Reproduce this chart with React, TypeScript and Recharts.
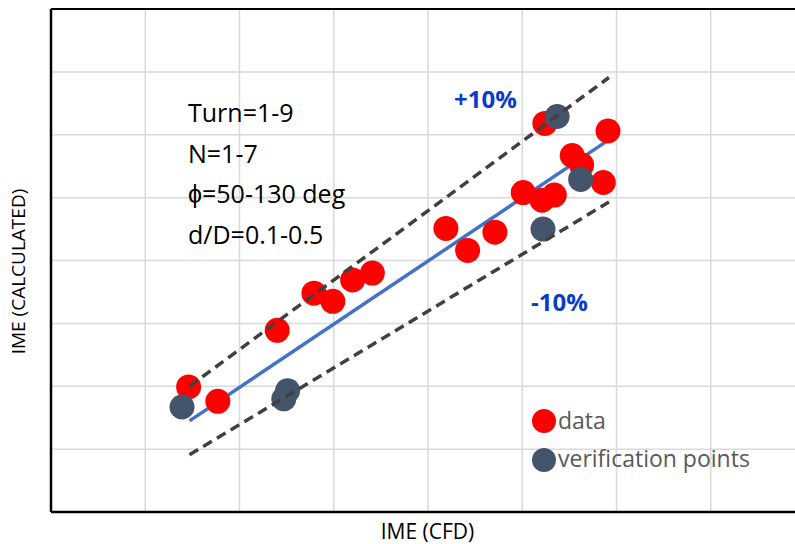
import React from 'react';
import { ScatterChart, Scatter, XAxis, YAxis, ReferenceLine } from 'recharts';

// IME (CFD) vs IME (CALCULATED), values in grid units
const dataPoints = [
  { x: 1.46, y: 1.99 },
  { x: 1.77, y: 1.76 },
  { x: 2.4, y: 2.89 },
  { x: 2.79, y: 3.48 },
  { x: 2.99, y: 3.35 },
  { x: 3.2, y: 3.69 },
  { x: 3.41, y: 3.8 },
  { x: 4.19, y: 4.51 },
  { x: 4.42, y: 4.16 },
  { x: 4.71, y: 4.45 },
  { x: 5.01, y: 5.08 },
  { x: 5.21, y: 4.96 },
  { x: 5.34, y: 5.04 },
  { x: 5.24, y: 6.18 },
  { x: 5.53, y: 5.67 },
  { x: 5.63, y: 5.52 },
  { x: 5.86, y: 5.24 },
  { x: 5.91, y: 6.06 },
];

const verificationPoints = [
  { x: 1.39, y: 1.67 },
  { x: 2.51, y: 1.93 },
  { x: 2.47, y: 1.8 },
  { x: 5.37, y: 6.29 },
  { x: 5.62, y: 5.29 },
  { x: 5.22, y: 4.5 },
];

const fitLine = [
  { x: 1.47, y: 1.45 },
  { x: 5.89, y: 5.89 },
];
const upperBound = [
  { x: 1.47, y: 2.0 },
  { x: 5.92, y: 6.91 },
];
const lowerBound = [
  { x: 1.47, y: 0.91 },
  { x: 5.92, y: 4.93 },
];

const gridTicks = [1, 2, 3, 4, 5, 6, 7, 8];
const notes = ['Turn=1-9', 'N=1-7', 'ϕ=50-130 deg', 'd/D=0.1-0.5'];

const RED = '#ff0000';
const GRAY = '#44546a';
const FONT = '"Open Sans", sans-serif';

const dot = (color: string) => (props: any) => (
  <circle cx={props.cx} cy={props.cy} r={12.5} fill={color} />
);
const noDot = () => <g />;

export default function App() {
  return (
    <div style={{ position: 'fixed', left: 0, top: 0, width: 795, height: 544, overflow: 'hidden', background: '#fff' }}>
      <ScatterChart width={810} height={544} margin={{ top: 9, left: 51, right: 5, bottom: 32 }}>
        <XAxis type="number" dataKey="x" domain={[0, 8]} hide />
        <YAxis type="number" dataKey="y" domain={[0, 8]} hide />
        {gridTicks.map((v) => (
          <ReferenceLine key={`gx${v}`} x={v} stroke="#d9d9d9" strokeWidth={1.5} />
        ))}
        {gridTicks.map((v) => (
          <ReferenceLine key={`gy${v}`} y={v} stroke={v === 8 ? '#000' : '#d9d9d9'} strokeWidth={v === 8 ? 2 : 1.5} />
        ))}
        <ReferenceLine x={0} stroke="#000" strokeWidth={2.5} />
        <ReferenceLine y={0} stroke="#000" strokeWidth={2.5} />
        <Scatter
          data={fitLine}
          line={{ stroke: '#4472c4', strokeWidth: 3.5 }}
          shape={noDot}
          legendType="none"
          isAnimationActive={false}
        />
        <Scatter name="data" data={dataPoints} fill={RED} shape={dot(RED)} isAnimationActive={false} />
        <Scatter name="verification points" data={verificationPoints} fill={GRAY} shape={dot(GRAY)} isAnimationActive={false} />
        <Scatter
          data={upperBound}
          line={{ stroke: '#404040', strokeWidth: 3.5, strokeDasharray: '10 6' }}
          shape={noDot}
          legendType="none"
          isAnimationActive={false}
        />
        <Scatter
          data={lowerBound}
          line={{ stroke: '#404040', strokeWidth: 3.5, strokeDasharray: '10 6' }}
          shape={noDot}
          legendType="none"
          isAnimationActive={false}
        />
      </ScatterChart>
      <svg width={795} height={544} style={{ position: 'absolute', left: 0, top: 0, pointerEvents: 'none' }}>
        {notes.map((t, i) => (
          <text key={t} x={188} y={122 + i * 40.7} fontFamily={FONT} fontSize={25} fill="#000">
            {t}
          </text>
        ))}
        <text x={454} y={108} fontFamily={FONT} fontSize={24} fontWeight="bold" fill="#0b3bcc">+10%</text>
        <text x={531} y={311} fontFamily={FONT} fontSize={24} fontWeight="bold" fill="#0b3bcc">-10%</text>
        <circle cx={544} cy={421} r={12} fill={RED} />
        <text x={558} y={429} fontFamily={FONT} fontSize={23} fill="#595959">data</text>
        <circle cx={544} cy={460} r={12} fill={GRAY} />
        <text x={558} y={467} fontFamily={FONT} fontSize={23} fill="#595959">verification points</text>
        <text x={427.5} y={539} textAnchor="middle" fontFamily={FONT} fontSize={21} fill="#000">IME (CFD)</text>
        <text
          x={25}
          y={271.5}
          textAnchor="middle"
          transform="rotate(-90 25 271.5)"
          fontFamily={FONT}
          fontSize={19}
          fill="#000"
        >
          IME (CALCULATED)
        </text>
      </svg>
    </div>
  );
}
